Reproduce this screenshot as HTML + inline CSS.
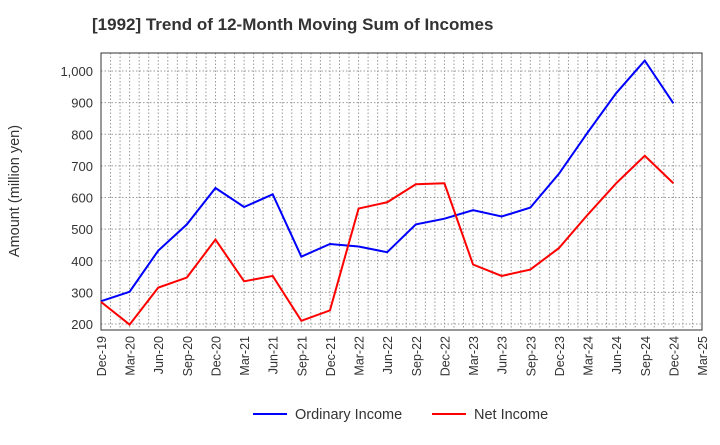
<!DOCTYPE html>
<html><head><meta charset="utf-8"><style>
body{margin:0;background:#fff;font-family:"Liberation Sans",sans-serif}
</style></head><body>
<svg id="c" width="720" height="440" xmlns="http://www.w3.org/2000/svg"></svg>
<script>
const categories=["Dec-19","Mar-20","Jun-20","Sep-20","Dec-20","Mar-21","Jun-21","Sep-21","Dec-21","Mar-22","Jun-22","Sep-22","Dec-22","Mar-23","Jun-23","Sep-23","Dec-23","Mar-24","Jun-24","Sep-24","Dec-24","Mar-25"];
const ordinaryIncome=[272,302,432,515,630,570,610,413,453,445,427,515,533,560,540,568,675,805,930,1033,898];
const netIncome=[270,198,315,347,467,335,352,210,243,565,585,642,645,388,352,372,440,545,645,732,645];
const yTicks=[200,300,400,500,600,700,800,900,1000];
const NS="http://www.w3.org/2000/svg";
const svg=document.getElementById('c');
const L=101,R=702,T=53,B=330;
const yMin=181,yMax=1057;
const x=i=>L+i*(R-L)/(categories.length-1);
const y=v=>B-(v-yMin)/(yMax-yMin)*(B-T);
function mk(tag,a,parent){const e=document.createElementNS(NS,tag);for(const k in a)e.setAttribute(k,a[k]);(parent||svg).appendChild(e);return e;}
let t=mk('text',{x:92,y:30,'font-size':17,'font-weight':'bold',fill:'#333','xml:space':'preserve'});


t.textContent='[1992]  Trend of 12-Month Moving Sum of Incomes';
const grid=mk('g',{});


for(let m=1;m<(categories.length-1)*3;m++){const gx=L+m*(R-L)/((categories.length-1)*3);mk('line',{x1:gx,x2:gx,y1:T,y2:B,stroke:'#999','stroke-dasharray':'1.5,2','stroke-width':1},grid);}
yTicks.forEach(v=>{mk('line',{x1:L,x2:R,y1:y(v),y2:y(v),stroke:'#999','stroke-dasharray':'1.5,2','stroke-width':1},grid);
const lb=mk('text',{x:L-8,y:y(v)+5,'text-anchor':'end','font-size':13,fill:'#333'});


lb.textContent=v.toLocaleString('en-US');});
const frame=mk('rect',{x:L,y:T,width:R-L,height:B-T,fill:'none',stroke:'#333','stroke-width':1});


categories.forEach((c,i)=>{const lb=mk('text',{transform:`translate(${x(i)+5},${B+6}) rotate(-90)`,'text-anchor':'end','font-size':12.5,fill:'#333'});


lb.textContent=c;});
const yt=mk('text',{transform:'translate(19,191) rotate(-90)','text-anchor':'middle','font-size':14.5,fill:'#333'});


yt.textContent='Amount (million yen)';
function line(data,color,name){const p=mk('polyline',{points:data.map((v,i)=>x(i)+','+y(v)).join(' '),fill:'none',stroke:color,'stroke-width':2});

}
line(ordinaryIncome,'#0000ff','ordinary-income-line');
line(netIncome,'#ff0000','net-income-line');
const lg=mk('g',{});


mk('line',{x1:253,x2:287,y1:414,y2:414,stroke:'#0000ff','stroke-width':2},lg);
let a=mk('text',{x:295,y:419,'font-size':14.5,fill:'#333'},lg);a.textContent='Ordinary Income';


mk('line',{x1:432,x2:466,y1:414,y2:414,stroke:'#ff0000','stroke-width':2},lg);
let b=mk('text',{x:474,y:419,'font-size':14.5,fill:'#333'},lg);b.textContent='Net Income';


</script>
</body></html>
